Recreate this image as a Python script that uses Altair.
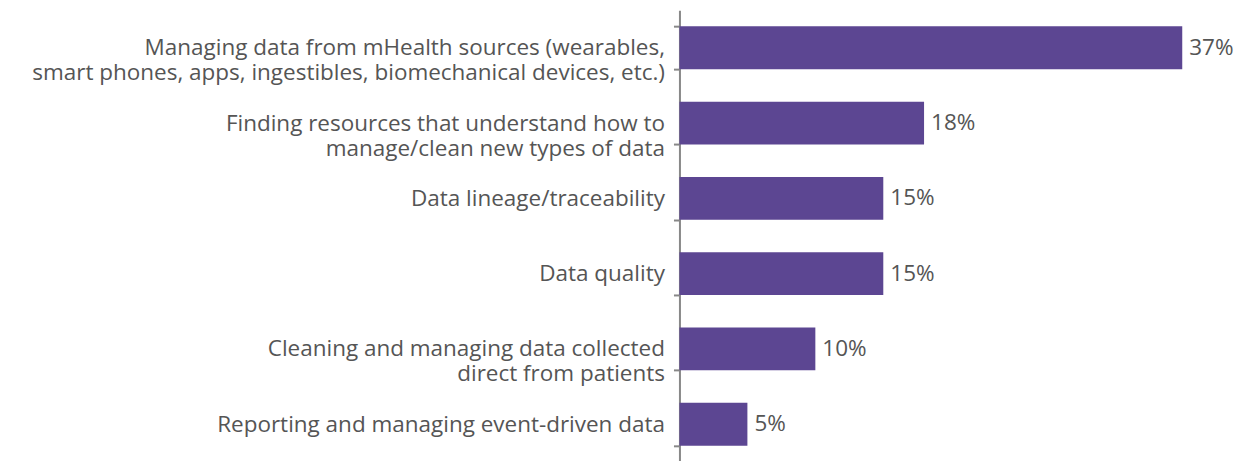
import altair as alt
import pandas as pd

categories = [
    "Managing data from mHealth sources (wearables,|smart phones, apps, ingestibles, biomechanical devices, etc.)",
    "Finding resources that understand how to|manage/clean new types of data",
    "Data lineage/traceability",
    "Data quality",
    "Cleaning and managing data collected|direct from patients",
    "Reporting and managing event-driven data",
]
values = [37, 18, 15, 15, 10, 5]
labels = [f"{v}%" for v in values]

df = pd.DataFrame({"cat": categories, "val": values, "lab": labels})

FONT = "Open Sans"
FS = 22.5
BAR = "#5c4692"
TXT = "#555555"

y = alt.Y(
    "cat:N",
    sort=categories,
    title=None,
    scale=alt.Scale(paddingInner=0.43, paddingOuter=0.215),
    axis=alt.Axis(
        labelExpr="split(datum.label, '|')",
        labelFont=FONT,
        labelFontSize=FS,
        labelColor=TXT,
        labelLineHeight=25,
        labelLimit=700,
        labelPadding=9,
        tickBand="extent",
        tickSize=6,
        tickColor="#888888",
        tickWidth=2,
        domainColor="#888888",
        domainWidth=2,
    ),
)
x = alt.X("val:Q", scale=alt.Scale(domain=[0, 40]), axis=None)

bars = alt.Chart(df).mark_bar(color=BAR).encode(x=x, y=y)
text = alt.Chart(df).mark_text(
    align="left", baseline="middle", dx=7, font=FONT, fontSize=FS, color=TXT
).encode(x=x, y=alt.Y("cat:N", sort=categories), text="lab:N")

chart = (
    (bars + text)
    .properties(
        width=544,
        height=452,
        autosize=alt.AutoSizeParams(type="none"),
        padding={"left": 672, "top": 2, "right": 20, "bottom": 0},
    )
    .configure_view(stroke=None)
)

chart.save("out.html", embed_options={"renderer": "svg", "actions": False})
